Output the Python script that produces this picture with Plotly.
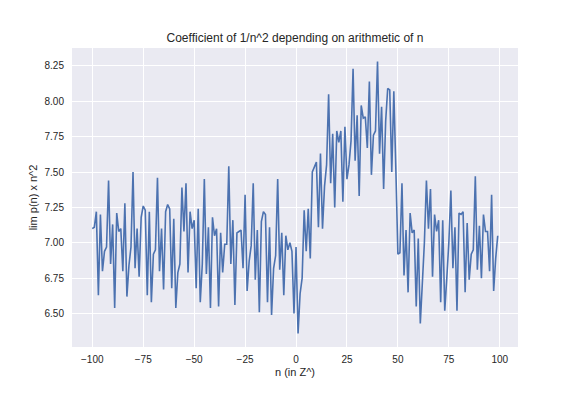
import plotly.graph_objects as go

n_values = list(range(-100, 100))

coef_values = [
    7.10, 7.11, 7.22, 6.63, 7.20, 6.80, 6.94, 6.97, 7.44, 6.85,
    7.13, 6.54, 7.21, 7.08, 7.10, 6.80, 7.28, 6.62, 6.84, 6.97,
    7.50, 6.82, 7.10, 6.76, 7.18, 7.26, 7.23, 6.63, 7.22, 6.58,
    6.92, 6.95, 7.46, 6.80, 7.10, 6.67, 7.22, 7.27, 7.24, 6.68,
    7.17, 6.54, 6.79, 6.85, 7.39, 7.08, 7.42, 6.79, 7.22, 7.10,
    7.16, 6.68, 7.24, 6.58, 6.85, 7.45, 6.78, 7.11, 6.54, 7.18,
    7.05, 7.10, 6.55, 7.07, 6.79, 6.99, 6.99, 7.54, 6.85, 7.16,
    6.56, 7.07, 7.08, 7.09, 6.82, 7.34, 6.66, 6.87, 6.98, 7.42,
    6.74, 7.09, 6.51, 7.15, 7.22, 7.20, 6.58, 7.11, 6.49, 6.82,
    6.91, 7.45, 6.81, 7.07, 6.63, 7.05, 6.95, 7.00, 6.94, 6.50,
    6.97, 6.36, 6.64, 6.75, 7.23, 6.94, 7.24, 6.89, 7.50, 7.53,
    7.57, 7.11, 7.63, 7.10, 7.40, 7.55, 8.05, 7.42, 7.77, 7.25,
    7.79, 7.71, 7.79, 7.29, 7.82, 7.45, 7.55, 7.72, 8.23, 7.58,
    7.90, 7.33, 7.97, 7.88, 7.89, 7.67, 8.14, 7.48, 7.76, 7.79,
    8.28, 7.63, 7.96, 7.38, 7.86, 8.09, 8.08, 7.50, 8.07, 7.52,
    6.92, 6.93, 7.42, 6.77, 7.09, 6.65, 7.21, 7.07, 7.09, 6.55,
    7.03, 6.43, 6.72, 7.00, 7.44, 7.10, 7.38, 6.76, 7.20, 7.08,
    7.16, 6.58, 7.16, 6.52, 6.75, 7.00, 7.37, 6.82, 7.11, 6.52,
    7.21, 7.20, 7.22, 6.65, 7.14, 6.74, 6.92, 6.95, 7.47, 6.81,
    7.12, 6.75, 7.20, 7.08, 7.08, 6.80, 7.34, 6.66, 6.89, 7.05,
]

x_ticks = [-100, -75, -50, -25, 0, 25, 50, 75, 100]
y_ticks = [6.50, 6.75, 7.00, 7.25, 7.50, 7.75, 8.00, 8.25]

title_text = "Coefficient of 1/n^2 depending on arithmetic of n"
x_label = "n (in Z^)"
y_label = "lim p(n) x n^2"

FONT = "Liberation Sans, Arial, sans-serif"
TXT = "#262626"

W, H = 568, 388  # page body adds an 8px offset

fig = go.Figure()
fig.add_trace(go.Scatter(
    x=n_values, y=coef_values, mode="lines",
    line=dict(color="#4C72B0", width=1.6),
    hoverinfo="skip", showlegend=False,
))

fig.update_layout(
    width=W, height=H,
    margin=dict(l=64, r=58, t=40, b=49, pad=0),
    paper_bgcolor="white",
    plot_bgcolor="#EAEAF2",
    font=dict(family=FONT, size=10, color=TXT),
    title=dict(text=title_text, x=287 / W, xanchor="center", xref="container",
               y=1 - 29.5 / H, yanchor="middle", yref="container",
               font=dict(family=FONT, size=12, color=TXT)),
    xaxis=dict(
        range=[-109.95, 108.95], tickvals=x_ticks,
        showgrid=True, gridcolor="white", gridwidth=1,
        zeroline=False, showline=False,
        ticks="outside", ticklen=3, tickcolor="rgba(0,0,0,0)",
        tickfont=dict(family=FONT, size=10, color=TXT),
        title=dict(text=x_label, standoff=4, font=dict(family=FONT, size=11, color=TXT)),
    ),
    yaxis=dict(
        range=[6.264, 8.376], tickvals=y_ticks, tickformat=".2f",
        showgrid=True, gridcolor="white", gridwidth=1,
        zeroline=False, showline=False,
        ticks="outside", ticklen=5, tickcolor="rgba(0,0,0,0)",
        tickfont=dict(family=FONT, size=10, color=TXT),
        title=dict(text=y_label, standoff=4, font=dict(family=FONT, size=11, color=TXT)),
    ),
)

fig.write_html("out.html")
